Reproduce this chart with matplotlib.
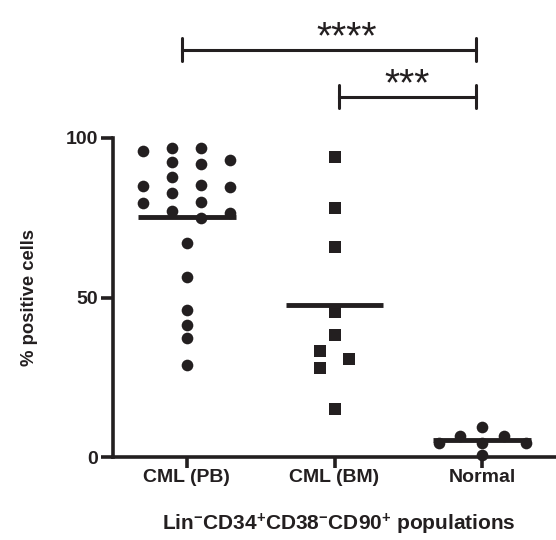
import matplotlib
matplotlib.use("Agg")
import numpy as np
import matplotlib.pyplot as plt

plt.rcParams["font.family"] = ["Liberation Sans", "DejaVu Sans"]
plt.rcParams["font.weight"] = "bold"
plt.rcParams["mathtext.fontset"] = "custom"
plt.rcParams["mathtext.rm"] = "Liberation Sans:bold"
plt.rcParams["mathtext.bf"] = "Liberation Sans:bold"

# Data (% positive cells per sample)
groups = ["CML (PB)", "CML (BM)", "Normal"]
cml_pb = [96.9, 96.9, 95.9, 93.1, 92.5, 91.8, 87.8, 85.3, 85.0, 84.6, 82.8,
          79.9, 79.6, 77.1, 76.5, 74.9, 67.1, 56.4, 46.1, 41.4, 37.3, 28.8]
cml_bm = [94.0, 78.1, 65.8, 45.5, 38.2, 33.2, 30.7, 27.9, 15.0]
normal = [9.5, 6.5, 6.5, 4.5, 4.5, 4.5, 0.5]
markers = ["o", "s", "o"]

# Significance brackets (label, left end, right end, height)
sig_labels = ["****", "***"]
sig_left = [-0.035, 1.03]
sig_right = [1.955, 1.955]
sig_y = [127.6, 112.9]
sig_text_x = [1.083, 1.49]

color = "#231f20"


def swarm_offsets(vals, gap=4.0, split=4.5, max_width=0.59, max_step=0.2):
    # put each point in the closest free column, then centre each cluster
    order = sorted(range(len(vals)), key=lambda i: -vals[i])
    col = {}
    for i in order:
        for s in [0, 1, -1, 2, -2, 3, -3, 4, -4]:
            if all(abs(vals[i] - vals[j]) >= gap for j in col if col[j] == s):
                col[i] = s
                break
    clusters, cur = [], [order[0]]
    for a, b in zip(order, order[1:]):
        if vals[a] - vals[b] < split:
            cur.append(b)
        else:
            clusters.append(cur)
            cur = [b]
    clusters.append(cur)
    ncols = max(max(col[i] for i in c) - min(col[i] for i in c) for c in clusters) + 1
    step = min(max_step, max_width / (ncols - 1)) if ncols > 1 else max_step
    offsets = [0.0] * len(vals)
    for c in clusters:
        lo = min(col[i] for i in c)
        hi = max(col[i] for i in c)
        for i in c:
            offsets[i] = (col[i] - (lo + hi) / 2) * step
    return offsets


fig = plt.figure(figsize=(5.56, 5.4), dpi=100)
ax = fig.add_axes([113 / 556, 83 / 540, 443 / 556, 319 / 540])

for k, vals in enumerate([cml_pb, cml_bm, normal]):
    offs = swarm_offsets(vals)
    ms = 9.1 if markers[k] == "s" else 8.4
    ax.plot(k + np.array(offs), vals, linestyle="none", marker=markers[k],
            markersize=ms, color=color, markeredgewidth=0, clip_on=False, zorder=3)
    m = np.mean(vals)
    ax.plot([k - 0.33, k + 0.33], [m, m], color=color, lw=3.5,
            solid_capstyle="butt", clip_on=False, zorder=4)

# Brackets
for i in range(len(sig_labels)):
    y = sig_y[i]
    ax.plot([sig_left[i], sig_right[i]], [y, y], color=color, lw=2.2, clip_on=False)
    for x in (sig_left[i], sig_right[i]):
        ax.plot([x, x], [y - 3.6, y + 3.6], color=color, lw=2.2,
                solid_capstyle="round", clip_on=False)
    ax.text(sig_text_x[i], y + 0.5, sig_labels[i], ha="center", va="baseline",
            fontsize=28, fontweight="normal", color=color)

ax.set_xlim(-0.5, 2.5)
ax.set_ylim(0, 100)
ax.set_yticks([0, 50, 100])
ax.set_xticks(range(len(groups)))
ax.set_xticklabels(groups)
for s in ["top", "right"]:
    ax.spines[s].set_visible(False)
for s in ["left", "bottom"]:
    ax.spines[s].set_linewidth(2.6)
    ax.spines[s].set_color(color)
ax.tick_params(axis="y", length=8.6, width=2.6, pad=2, labelsize=14, colors=color)
ax.tick_params(axis="x", length=8, width=2.6, pad=1, labelsize=14, colors=color)

ax.set_ylabel("% positive cells", fontsize=13.3, fontweight="bold", color=color)
ax.yaxis.set_label_coords(-0.17, 0.5)
ax.set_xlabel(r"$\mathbf{Lin^{-}CD34^{+}CD38^{-}CD90^{+}}$ populations",
              fontsize=15, fontweight="bold", color=color, va="center")
ax.xaxis.set_label_coords(0.51, -0.21)

plt.savefig("out.png", dpi=100)
